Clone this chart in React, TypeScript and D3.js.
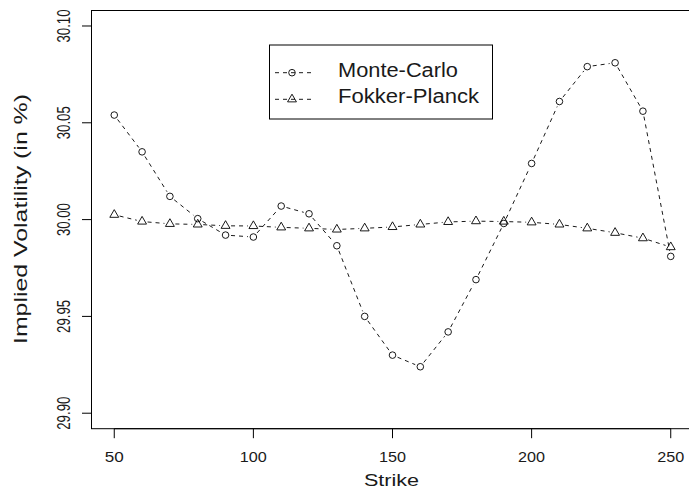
import React from "react";
import * as d3 from "d3";

const strikes = [50, 60, 70, 80, 90, 100, 110, 120, 130, 140, 150, 160, 170, 180, 190, 200, 210, 220, 230, 240, 250];
const monteCarlo = [30.054, 30.035, 30.012, 30.0005, 29.992, 29.991, 30.007, 30.003, 29.9865, 29.950, 29.930, 29.924, 29.942, 29.969, 29.998, 30.029, 30.061, 30.079, 30.081, 30.056, 29.981];
const fokkerPlanck = [30.0025, 29.999, 29.9978, 29.9975, 29.9968, 29.9967, 29.996, 29.9955, 29.9949, 29.9955, 29.9962, 29.9975, 29.9988, 29.9992, 29.999, 29.9986, 29.9975, 29.9955, 29.9932, 29.9904, 29.9858];
const xTicks = [50, 100, 150, 200, 250];
const yTicks = [29.9, 29.95, 30.0, 30.05, 30.1];
const yTickLabels = ["29.90", "29.95", "30.00", "30.05", "30.10"];
const seriesNames = ["Monte-Carlo", "Fokker-Planck"];

const W = 689;
const H = 501;
const FONT = "'Liberation Sans', Arial, Helvetica, sans-serif";
const TXT = "#1a1a1a";

const x = d3.scaleLinear().domain([42, 258]).range([92, 693]);
const y = d3.scaleLinear().domain([29.892, 30.108]).range([428.7, 10.5]);

const GAP = 5.5;
const R = 3.3;

function segments(xs: number[], ys: number[]) {
  const out: { x1: number; y1: number; x2: number; y2: number }[] = [];
  for (let i = 0; i < xs.length - 1; i++) {
    const ax = x(xs[i]), ay = y(ys[i]), bx = x(xs[i + 1]), by = y(ys[i + 1]);
    const d = Math.hypot(bx - ax, by - ay);
    if (d <= 2 * GAP) continue;
    const ux = (bx - ax) / d, uy = (by - ay) / d;
    out.push({ x1: ax + ux * GAP, y1: ay + uy * GAP, x2: bx - ux * GAP, y2: by - uy * GAP });
  }
  return out;
}

function trianglePath(cx: number, cy: number) {
  const r = 1.555 * R;
  const xc = 1.3468 * R;
  const yc = 0.7776 * R;
  return `M${cx},${cy - r}L${cx + xc},${cy + yc}L${cx - xc},${cy + yc}Z`;
}

export default function App() {
  const mcSeg = segments(strikes, monteCarlo);
  const fpSeg = segments(strikes, fokkerPlanck);
  const x0 = x(xTicks[0]);
  const x1 = x(xTicks[xTicks.length - 1]);
  const yb = y.range()[0];
  const yt = y.range()[1];
  const xl = x.range()[0];
  const xr = x.range()[1];
  return (
    <svg width={W} height={H} style={{ position: "absolute", left: 0, top: 0, display: "block", background: "#fff" }}>
      <rect x={0} y={0} width={W} height={H} fill="#fff" />
      {/* plot box */}
      <rect x={xl - 0.5} y={yt} width={xr - xl} height={yb - yt} fill="none" stroke="#000" strokeWidth={1} />
      {/* x axis */}
      <line x1={x0} x2={x1} y1={yb} y2={yb} stroke="#000" strokeWidth={1} />
      {xTicks.map((t) => (
        <g key={"xt" + t}>
          <line x1={x(t)} x2={x(t)} y1={yb} y2={yb + 9.5} stroke="#000" strokeWidth={1} />
          <text x={x(t)} y={462} textAnchor="middle" fontFamily={FONT} fontSize={14.5} fill={TXT}
            textLength={String(t).length === 2 ? 19 : 27} lengthAdjust="spacingAndGlyphs">{t}</text>
        </g>
      ))}
      {/* y axis */}
      <line x1={xl - 0.5} x2={xl - 0.5} y1={y(yTicks[0])} y2={y(yTicks[yTicks.length - 1])} stroke="#000" strokeWidth={1} />
      {yTicks.map((t, i) => (
        <g key={"yt" + i}>
          <line x1={xl - 10} x2={xl - 0.5} y1={y(t)} y2={y(t)} stroke="#000" strokeWidth={1} />
          <text transform={`translate(70,${y(t)}) rotate(-90) scale(1,1.45)`} textAnchor="middle" fontFamily={FONT} fontSize={13.2} fill={TXT}>{yTickLabels[i]}</text>
        </g>
      ))}
      {/* axis titles */}
      <text x={391.5} y={485.5} textAnchor="middle" fontFamily={FONT} fontSize={16.8} fill={TXT}
        textLength={55} lengthAdjust="spacingAndGlyphs">Strike</text>
      <text transform={`translate(26.5,219) rotate(-90)`} textAnchor="middle" fontFamily={FONT} fontSize={17.5} fill={TXT}
        textLength={250} lengthAdjust="spacingAndGlyphs">Implied Volatility (in %)</text>
      {/* series lines */}
      <g stroke="#000" strokeWidth={0.9} strokeDasharray="4,4" fill="none">
        {mcSeg.map((s, i) => <line key={"m" + i} {...s} />)}
        {fpSeg.map((s, i) => <line key={"f" + i} {...s} />)}
      </g>
      {/* points */}
      <g stroke="#000" strokeWidth={0.9} fill="none">
        {strikes.map((s, i) => <circle key={"mc" + i} cx={x(s)} cy={y(monteCarlo[i])} r={R} />)}
        {strikes.map((s, i) => <path key={"fp" + i} d={trianglePath(x(s), y(fokkerPlanck[i]))} />)}
      </g>
      {/* legend */}
      <rect x={269.5} y={45} width={223} height={74} fill="#fff" stroke="#000" strokeWidth={1} />
      <g stroke="#000" strokeWidth={0.9} fill="none">
        <line x1={275} x2={315} y1={72.7} y2={72.7} strokeDasharray="4,4" />
        <circle cx={292} cy={72.7} r={R} />
        <line x1={275} x2={315} y1={99.3} y2={99.3} strokeDasharray="4,4" />
        <path d={trianglePath(292, 99.3)} />
      </g>
      <text x={338} y={77.3} fontFamily={FONT} fontSize={19.5} fill={TXT} textLength={120} lengthAdjust="spacingAndGlyphs">{seriesNames[0]}</text>
      <text x={338} y={103.3} fontFamily={FONT} fontSize={19.5} fill={TXT} textLength={141} lengthAdjust="spacingAndGlyphs">{seriesNames[1]}</text>
    </svg>
  );
}
